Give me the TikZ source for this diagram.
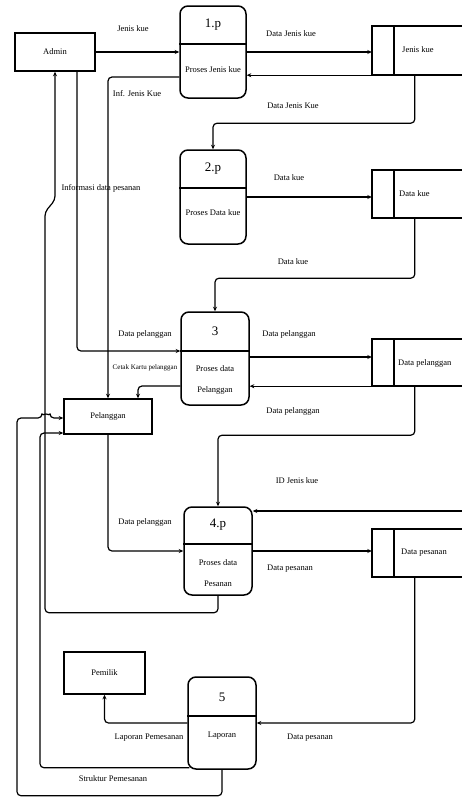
\documentclass[tikz,border=0pt]{standalone}
\usepackage{fontspec}
\setmainfont{Liberation Serif}
\usetikzlibrary{arrows.meta,calc}
\begin{document}
\begin{tikzpicture}[x=1pt,y=-1pt,
  ent/.style={draw,line width=1.5pt,inner sep=0pt,font=\fontsize{8.5}{10}\selectfont},
  proc/.style={draw,line width=1.5pt,rounded corners=8pt,inner sep=0pt,minimum width=66pt},
  store/.style={inner sep=0pt,minimum width=90pt},
  sline/.style={line width=1.5pt},
  flow/.style={line width=1.2pt,rounded corners=4pt,-{Stealth[length=4.5pt,width=4pt]}},
  lbl/.style={font=\fontsize{8.5}{10}\selectfont,inner sep=0pt},
  num/.style={font=\fontsize{13}{15}\selectfont,inner sep=0pt}]
\useasboundingbox (0,0) rectangle (462,798);

% external entities
\node[ent,minimum width=80pt,minimum height=38pt] (admin) at (55,52) {Admin};
\node[ent,minimum width=88pt,minimum height=35pt] (pel) at (108,416.5) {Pelanggan};
\node[ent,minimum width=81pt,minimum height=42pt] (pem) at (104.5,673) {Pemilik};

% processes
\node[proc,minimum height=92pt] (p1) at (213,52) {};
\draw[sline] (p1.west |- 0,44) -- (p1.east |- 0,44);
\node[num] (p1n) at (213,25) {1.p};
\node[lbl] (p1t) at (213,70) {Proses Jenis kue};

\node[proc,minimum height=94pt] (p2) at (213,197) {};
\draw[sline] (p2.west |- 0,188) -- (p2.east |- 0,188);
\node[num] (p2n) at (213,169) {2.p};
\node[lbl] (p2t) at (213,213) {Proses Data kue};

\node[proc,minimum width=68pt,minimum height=93pt] (p3) at (215,358.5) {};
\draw[sline] (p3.west |- 0,351) -- (p3.east |- 0,351);
\node[num] (p3n) at (215,331) {3};
\node[lbl,align=center,font=\fontsize{8.5}{21}\selectfont] (p3t) at (215,380) {Proses data\\Pelanggan};

\node[proc,minimum width=68pt,minimum height=88pt] (p4) at (218,551) {};
\draw[sline] (p4.west |- 0,544) -- (p4.east |- 0,544);
\node[num] (p4n) at (218,525) {4.p};
\node[lbl,align=center,font=\fontsize{8.5}{21}\selectfont] (p4t) at (218,573) {Proses data\\Pesanan};

\node[proc,minimum width=68pt,minimum height=92pt] (p5) at (222,723) {};
\draw[sline] (p5.west |- 0,716) -- (p5.east |- 0,716);
\node[num] (p5n) at (222,697) {5};
\node[lbl] (p5t) at (222,736) {Laporan};

% data stores
\node[store,minimum height=49pt] (s1) at (417,50.5) {};
\node[store,minimum height=48pt] (s2) at (417,194) {};
\node[store,minimum height=47pt] (s3) at (417,362.5) {};
\node[store,minimum height=48pt] (s4) at (417,553) {};
\foreach \s in {s1,s2,s3,s4}{
  \draw[sline] (\s.north east) -- (\s.north west) -- (\s.south west) -- (\s.south east);
  \draw[sline] ($(\s.north west)+(22,0)$) -- ($(\s.south west)+(22,0)$);
}
\node[lbl,anchor=west] (s1t) at (402,50) {Jenis kue};
\node[lbl,anchor=west] (s2t) at (399,194) {Data kue};
\node[lbl,anchor=west] (s3t) at (398,363) {Data pelanggan};
\node[lbl,anchor=west] (s4t) at (401,553) {Data pesanan};

% flows
\draw[flow] (admin.east) -- (admin.east -| p1.west);
\node[lbl] at (133,29) {Jenis kue};

\draw[flow] (p1.east) -- (p1.east -| s1.west);
\node[lbl] at (291,34) {Data Jenis kue};

\draw[flow] (s1.south west) -- (s1.south west -| p1.east);

\draw[flow] (p1.west |- 0,77) -| (pel.north);
\node[lbl] at (137,94) {Inf. Jenis Kue};

\draw[flow] ($(s1.south west)+(43,0)$) -- ++(0,48) -| (p2.north);
\node[lbl] at (293,106) {Data Jenis Kue};

\draw[flow] (p2.east) -- (p2.east -| s2.west);
\node[lbl] at (289,178) {Data kue};

\draw[flow] ($(s2.south west)+(43,0)$) -- ++(0,60) -| (p3.north);
\node[lbl] at (293,262) {Data kue};

\draw[flow] (admin.south -| 77,0) |- (p3.west |- 0,351);
\node[lbl] at (145,334) {Data pelanggan};

\draw[flow] (p3.east |- 0,357) -- (s3.west |- 0,357);
\node[lbl] at (289,334) {Data pelanggan};

\draw[flow] (s3.south west) -- (s3.south west -| p3.east);

\draw[flow] (p3.west |- 0,386) -| (pel.north -| 138,0);
\node[lbl,font=\fontsize{7}{8}\selectfont] at (145,368) {Cetak Kartu pelanggan};

\draw[flow] ($(s3.south west)+(43,0)$) -- ++(0,49) -| (p4.north);
\node[lbl] at (293,411) {Data pelanggan};

\draw[flow] (pel.south) |- (p4.west);
\node[lbl] at (145,522) {Data pelanggan};

\coordinate (rin) at (462,511);
\draw[flow] (rin) -- (rin -| p4.east);
\node[lbl] at (297,481) {ID Jenis kue};

\draw[flow] (p4.east) -- (p4.east -| s4.west);
\node[lbl] at (290,569) {Data pesanan};

\draw[flow] ($(s4.south west)+(43,0)$) |- (p5.east);
\node[lbl] at (310,738) {Data pesanan};

\draw[flow] (p5.west) -| (pem.south);
\node[lbl] at (149,738) {Laporan Pemesanan};

\draw[flow] (p4.south) -- ++(0,17) -| (45,212) -- (55,200) -- (admin.south);
\node[lbl] at (101,188) {Informasi data pesanan};

\draw[flow] (p5.south) -- ++(0,26) -| (17,418) -- (42,418) arc (180:360:4) -- (pel.west |- 0,418);

\draw[flow] ($(p5.south west)+(2,-2)$) -| (40,433) -- (pel.west |- 0,433);
\node[lbl] at (113,779) {Struktur Pemesanan};
\end{tikzpicture}
\end{document}
